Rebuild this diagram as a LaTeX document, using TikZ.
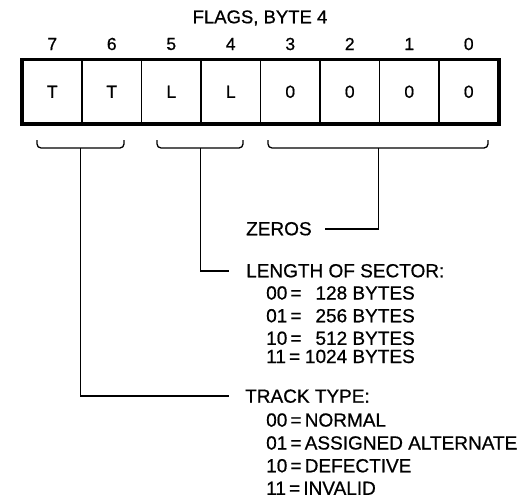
\documentclass[tikz,border=0pt]{standalone}
\usepackage{fontspec}
\setmainfont{Liberation Sans}[FakeBold=0.7]
\begin{document}
\begin{tikzpicture}[x=1pt,y=-1pt,
  cell/.style={draw, line width=1.2pt, minimum width=59.5pt, minimum height=63.5pt, inner sep=0pt, font=\fontsize{17.5}{20}\selectfont},
  bitnum/.style={inner sep=0pt, font=\fontsize{17.5}{20}\selectfont},
  ttl/.style={inner sep=0pt, font=\fontsize{18.5}{21}\selectfont},
  lbl/.style={inner sep=0pt, anchor=base west, font=\fontsize{19}{22}\selectfont},
  rlbl/.style={inner sep=0pt, anchor=base east, font=\fontsize{19}{22}\selectfont},
  frame/.style={line width=3.6pt},
  bracepath/.style={line width=1.3pt, rounded corners=4pt},
  conn/.style={line width=1.6pt}]
\useasboundingbox (0,0) rectangle (532,498);

% title
\node[ttl] (title) at (260,18) {FLAGS, BYTE 4};

% cells and bit numbers
\foreach \i/\b/\t in {0/7/T,1/6/T,2/5/L,3/4/L,4/3/0,5/2/0,6/1/0,7/0/0} {
  \node[cell] (c\b) at ({52.25+59.5*\i},91.75) {\t};
  \node[bitnum] (n\b) at ({52.25+59.5*\i},44) {\b};
}
\draw[frame] (c7.north west) rectangle (c0.south east);

% braces
\coordinate (b1) at (80.5,148);
\coordinate (b2) at (200.5,148);
\coordinate (b3) at (378.5,148);
\draw[bracepath] (37,140) -- (37,148) -- (124,148) -- (124,140);
\draw[bracepath] (157,140) -- (157,148) -- (243,148) -- (243,140);
\draw[bracepath] (268,140) -- (268,148) -- (488,148) -- (488,140);

% labels
\node[lbl] (zeros) at (246,235.3) {ZEROS};
\node[lbl] (len) at (246,277.3) {LENGTH OF SECTOR:};
\node[lbl] (l00) at (266,299.5) {00\,=};
\node[rlbl] (v00) at (415,299.5) {128 BYTES};
\node[lbl] (l01) at (266,322.3) {01\,=};
\node[rlbl] (v01) at (415,322.3) {256 BYTES};
\node[lbl] (l10) at (266,344.8) {10\,=};
\node[rlbl] (v10) at (415,344.8) {512 BYTES};
\node[lbl] (l11) at (266,363) {11\,=};
\node[rlbl] (v11) at (415,363) {1024 BYTES};

\node[lbl] (track) at (245,402.7) {TRACK TYPE:};
\node[lbl] (t00) at (266,426.6) {00\,=\,NORMAL};
\node[lbl] (t01) at (266,449.5) {01\,=\,ASSIGNED ALTERNATE};
\node[lbl] (t10) at (266,472.3) {10\,=\,DEFECTIVE};
\node[lbl] (t11) at (266,494.8) {11\,=\,INVALID};

% connectors
\draw[conn] (b3) |- ([xshift=13pt]zeros.east);
\draw[conn] (b2) |- ([xshift=-17pt]len.west);
\draw[conn] (b1) |- ([xshift=-16pt]track.west);
\end{tikzpicture}
\end{document}
